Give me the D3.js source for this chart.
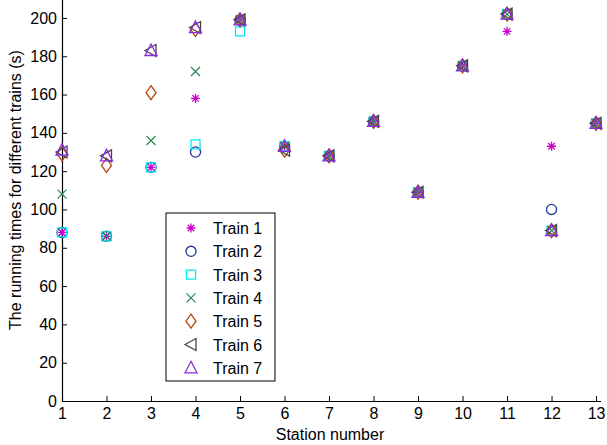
<!DOCTYPE html>
<html>
<head>
<meta charset="utf-8">
<script src="https://cdn.jsdelivr.net/npm/d3@7"></script>
<style>
  body { margin: 0; background: #fff; }
  text { font-family: "Liberation Sans", Arial, sans-serif; }
</style>
</head>
<body>
<svg id="chart" width="607" height="445"></svg>
<script>
// station numbers along x
const stations = [1, 2, 3, 4, 5, 6, 7, 8, 9, 10, 11, 12, 13];

// running times, one list per train
const train1 = [88, 86, 122, 158, 199, 133, 128, 146, 109, 175, 193, 133, 145];
const train2 = [88, 86, 122, 130, 199, 133, 128, 146, 109, 175, 202, 100, 145];
const train3 = [88, 86, 122, 134, 193, 133, 128, 146, 109, 175, 202, 89, 145];
const train4 = [108, 86, 136, 172, 199, 133, 128, 146, 109, 175, 202, 89, 145];
const train5 = [129, 123, 161, 194, 199, 131, 128, 146, 109, 175, 202, 89, 145];
const train6 = [130, 128, 183, 195, 199, 131, 128, 146, 109, 175, 202, 89, 145];
const train7 = [131, 128, 183, 195, 199, 133, 128, 146, 109, 175, 202, 89, 145];

const trainNames = ["Train 1", "Train 2", "Train 3", "Train 4", "Train 5", "Train 6", "Train 7"];
const yTicks = [0, 20, 40, 60, 80, 100, 120, 140, 160, 180, 200];

const series = [train1, train2, train3, train4, train5, train6, train7];
const colors = ["#cc00cc", "#22379b", "#00f0f0", "#2e8b57", "#b5470f", "#444444", "#8a2be2"];
const shapes = ["star", "circle", "square", "cross", "diamond", "left", "up"];

const svg = d3.select("#chart");

let xScale = d3.scaleLinear().domain([1, 13.1]).range([62, 600.5]);
let yScale = d3.scaleLinear().domain([0, 210]).range([401, -1.2]);

// marker path for a shape, centred on 0,0
function markerPath(shape) {
    if (shape == "star") {
        let r = 4.5, d = r * 0.72;
        return "M" + (-r) + ",0L" + r + ",0M0," + (-r) + "L0," + r +
            "M" + (-d) + "," + (-d) + "L" + d + "," + d +
            "M" + (-d) + "," + d + "L" + d + "," + (-d);
    }
    if (shape == "circle") {
        return d3.symbol(d3.symbolCircle, 80)();
    }
    if (shape == "square") {
        return "M-4.5,-4.5L4.5,-4.5L4.5,4.5L-4.5,4.5Z";
    }
    if (shape == "cross") {
        return "M-4.5,-4.5L4.5,4.5M-4.5,4.5L4.5,-4.5";
    }
    if (shape == "diamond") {
        return "M0,-7L5,0L0,7L-5,0Z";
    }
    if (shape == "left") {
        return "M-6,0L5,-6L5,6Z";
    }
    if (shape == "up") {
        return "M0,-6.5L6,5L-6,5Z";
    }
}

// axes, MATLAB style with ticks pointing inwards
let xAxis = d3.axisBottom(xScale).tickValues(stations).tickSize(-5).tickPadding(8).tickSizeOuter(0);
let xAxisG = svg.append("g").attr("transform", "translate(0," + yScale(0) + ")").call(xAxis);

let yAxis = d3.axisLeft(yScale).tickValues(yTicks).tickSize(-5).tickPadding(5).tickSizeOuter(0);
let yAxisG = svg.append("g").attr("transform", "translate(" + xScale(1) + ",0)").call(yAxis);

[xAxisG, yAxisG].forEach(function(g) {
    g.select(".domain").attr("stroke", "#000").attr("stroke-width", 1.2);
    g.selectAll(".tick line").attr("stroke", "#000");
    g.selectAll(".tick text").attr("fill", "#000").style("font-size", "16px")
        .style("font-family", "'Liberation Sans', Arial, sans-serif");
});
xAxisG.selectAll(".tick text").attr("dy", "0.6em");

// axis titles
svg.append("text")
    .attr("x", 330).attr("y", 440)
    .attr("text-anchor", "middle")
    .style("font-size", "16px")
    .text("Station number");

svg.append("text")
    .attr("transform", "translate(21,190) rotate(-90)")
    .attr("text-anchor", "middle")
    .style("font-size", "16px")
    .text("The running times for different trains (s)");

// markers, train 1 first so train 7 ends up on top
series.forEach(function(values, i) {
    svg.append("g").selectAll("path")
        .data(values)
        .enter().append("path")
        .attr("d", markerPath(shapes[i]))
        .attr("transform", (d, j) => "translate(" + xScale(stations[j]) + "," + yScale(d) + ")")
        .attr("fill", "none")
        .attr("stroke", colors[i])
        .attr("stroke-width", 1.3);
});

// legend
let legend = svg.append("g").attr("transform", "translate(166,213)");
legend.append("rect")
    .attr("width", 109).attr("height", 168)
    .attr("fill", "#fff").attr("stroke", "#000").attr("stroke-width", 1);

trainNames.forEach(function(name, i) {
    let y = 15 + i * 23.3;
    legend.append("path")
        .attr("d", markerPath(shapes[i]))
        .attr("transform", "translate(25," + y + ")")
        .attr("fill", "none")
        .attr("stroke", colors[i])
        .attr("stroke-width", 1.3);
    legend.append("text")
        .attr("x", 47).attr("y", y + 6)
        .style("font-size", "16px")
        .text(name);
});
</script>
</body>
</html>
